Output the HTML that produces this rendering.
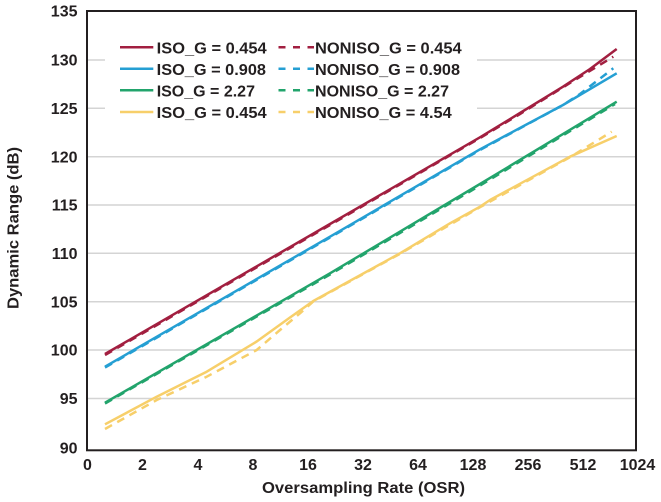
<!DOCTYPE html>
<html><head><meta charset="utf-8"><style>
html,body{margin:0;padding:0;background:#fff;}
svg{display:block;}
text{font-family:"Liberation Sans",sans-serif;font-weight:bold;fill:#231f20;}
</style></head><body>
<svg width="661" height="502" viewBox="0 0 661 502" xmlns="http://www.w3.org/2000/svg">
<rect width="661" height="502" fill="#fff"/>
<g stroke="#d4d4d4" stroke-width="1.5" fill="none">
<line x1="88" y1="60" x2="105" y2="60"/><line x1="477" y1="60" x2="636" y2="60"/>
<line x1="88" y1="108.3" x2="105" y2="108.3"/><line x1="477" y1="108.3" x2="636" y2="108.3"/>
<line x1="88" y1="156.7" x2="636" y2="156.7"/>
<line x1="88" y1="205" x2="636" y2="205"/>
<line x1="88" y1="253.3" x2="636" y2="253.3"/>
<line x1="88" y1="301.7" x2="636" y2="301.7"/>
<line x1="88" y1="350" x2="636" y2="350"/>
<line x1="88" y1="398.5" x2="636" y2="398.5"/>
</g>
<g fill="none" stroke-width="2.5" stroke-linejoin="round" stroke-linecap="butt">
<!-- yellow -->
<polyline stroke="#f7cf6a" stroke-dasharray="8,6" points="105,429 156.7,400 206.7,376.7 256.7,350 280,330 300,313.3 313.3,301.5 400,253.8 480,207.2 570,157.2 611.7,131.7"/>
<polyline stroke="#f7cf6a" points="105,424.3 156.7,396.7 206.7,371.7 256.7,341.5 290,317.5 313.3,301 400,253.3 450,223.3 480,206.7 490,200 570,156.7 616.7,136"/>
<!-- green -->
<polyline stroke="#22a46c" stroke-dasharray="8,6" points="105,403.5 330,274.5 480,185.5 615,104"/>
<polyline stroke="#22a46c" points="105,402.7 330,273.3 480,184 616.7,101.7"/>
<!-- blue -->
<polyline stroke="#259fd3" stroke-dasharray="8,6" points="105,367.5 330,237.5 480,150 563,105 580,94 613.3,68.3"/>
<polyline stroke="#259fd3" points="105,366.7 330,236.7 480,149.3 563,105 616.7,73.3"/>
<!-- red -->
<polyline stroke="#a21f40" stroke-dasharray="8,6" points="105,355 330,225 480,138 520,114 570,83 613.3,56.7"/>
<polyline stroke="#a21f40" points="105,354 330,224 480,137.3 520,113 563,86.7 590,69 616.7,49"/>
</g>
<rect x="87" y="11" width="549" height="439.3" fill="none" stroke="#231f20" stroke-width="2"/>
<!-- legend -->
<g stroke-width="2.5" fill="none">
<line x1="120" y1="47.3" x2="153.3" y2="47.3" stroke="#a21f40"/>
<line x1="120" y1="68.8" x2="153.3" y2="68.8" stroke="#259fd3"/>
<line x1="120" y1="90.3" x2="153.3" y2="90.3" stroke="#22a46c"/>
<line x1="120" y1="112" x2="153.3" y2="112" stroke="#f7cf6a"/>
<line x1="278.5" y1="47.3" x2="314" y2="47.3" stroke="#a21f40" stroke-dasharray="7,7.5"/>
<line x1="278.5" y1="68.8" x2="314" y2="68.8" stroke="#259fd3" stroke-dasharray="7,7.5"/>
<line x1="278.5" y1="90.3" x2="314" y2="90.3" stroke="#22a46c" stroke-dasharray="7,7.5"/>
<line x1="278.5" y1="112" x2="314" y2="112" stroke="#f7cf6a" stroke-dasharray="7,7.5"/>
</g>
<g font-size="16">
<text x="156.7" y="53.3" textLength="110" lengthAdjust="spacingAndGlyphs">ISO_G = 0.454</text>
<text x="156.7" y="74.8" textLength="109.3" lengthAdjust="spacingAndGlyphs">ISO_G = 0.908</text>
<text x="156.7" y="96.3" textLength="98.3" lengthAdjust="spacingAndGlyphs">ISO_G = 2.27</text>
<text x="156.7" y="118" textLength="110" lengthAdjust="spacingAndGlyphs">ISO_G = 0.454</text>
<text x="315" y="53.3" textLength="146.7" lengthAdjust="spacingAndGlyphs">NONISO_G = 0.454</text>
<text x="315" y="74.8" textLength="145" lengthAdjust="spacingAndGlyphs">NONISO_G = 0.908</text>
<text x="315" y="96.3" textLength="134" lengthAdjust="spacingAndGlyphs">NONISO_G = 2.27</text>
<text x="315" y="118" textLength="136.7" lengthAdjust="spacingAndGlyphs">NONISO_G = 4.54</text>
</g>
<!-- y tick labels -->
<g font-size="16" text-anchor="end">
<text x="77.5" y="16.7">135</text>
<text x="77.5" y="65.7">130</text>
<text x="77.5" y="114">125</text>
<text x="77.5" y="162.4">120</text>
<text x="77.5" y="210.7">115</text>
<text x="77.5" y="259">110</text>
<text x="77.5" y="307.4">105</text>
<text x="77.5" y="355.7">100</text>
<text x="77.5" y="404.2">95</text>
<text x="77.5" y="453.3">90</text>
</g>
<!-- x tick labels -->
<g font-size="16" text-anchor="middle">
<text x="87.5" y="470">0</text>
<text x="142.5" y="470">2</text>
<text x="198" y="470">4</text>
<text x="253" y="470">8</text>
<text x="308" y="470">16</text>
<text x="363" y="470">32</text>
<text x="418" y="470">64</text>
<text x="473" y="470">128</text>
<text x="528" y="470">256</text>
<text x="583" y="470">512</text>
<text x="637.5" y="470">1024</text>
</g>
<text x="262" y="493" font-size="16" textLength="203" lengthAdjust="spacingAndGlyphs">Oversampling Rate (OSR)</text>
<text transform="translate(18.5,228) rotate(-90)" x="0" y="0" font-size="16" text-anchor="middle" textLength="162" lengthAdjust="spacingAndGlyphs">Dynamic Range (dB)</text>
</svg>
</body></html>
